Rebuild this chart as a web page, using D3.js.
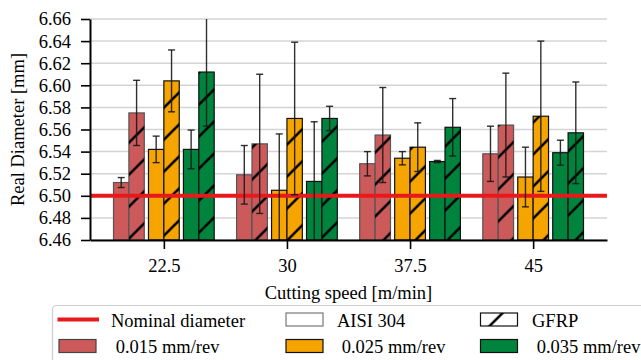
<!DOCTYPE html>
<html>
<head>
<meta charset="utf-8">
<script src="https://cdn.jsdelivr.net/npm/d3@7"></script>
<style>
  body { margin: 0; background: #fff; }
  svg, svg text { font-family: "Liberation Serif", "DejaVu Serif", serif; fill: #000; }
</style>
</head>
<body>
<svg id="chart" width="641" height="360"></svg>
<script>
// categories
const speeds = ["22.5", "30", "37.5", "45"];
const feeds = [" 0.015 mm/rev", " 0.025 mm/rev", " 0.035 mm/rev"];
const materials = ["AISI 304", "GFRP"];
const yTicks = [6.46, 6.48, 6.50, 6.52, 6.54, 6.56, 6.58, 6.60, 6.62, 6.64, 6.66];
const nominal = 6.50;

// mean diameter per speed, one array per feed rate
const aisi015 = [6.512, 6.519, 6.529, 6.538];
const aisi025 = [6.542, 6.505, 6.534, 6.517];
const aisi035 = [6.542, 6.513, 6.531, 6.539];
const gfrp015 = [6.575, 6.547, 6.555, 6.564];
const gfrp025 = [6.604, 6.570, 6.544, 6.572];
const gfrp035 = [6.612, 6.570, 6.562, 6.557];

// standard deviations
const aisi015Err = [0.0045, 0.0265, 0.011, 0.025];
const aisi025Err = [0.012, 0.051, 0.006, 0.027];
const aisi035Err = [0.0175, 0.054, 0.001, 0.0113];
const gfrp015Err = [0.0295, 0.063, 0.043, 0.047];
const gfrp025Err = [0.028, 0.069, 0.022, 0.068];
const gfrp035Err = [0.049, 0.011, 0.026, 0.046];

const feedColors = ["#cd5a5a", "#f6a400", "#00843d"];

const means = [[aisi015, gfrp015], [aisi025, gfrp025], [aisi035, gfrp035]];
const errs = [[aisi015Err, gfrp015Err], [aisi025Err, gfrp025Err], [aisi035Err, gfrp035Err]];

const rows = [];
feeds.forEach((f, fi) => {
  materials.forEach((m, mi) => {
    speeds.forEach((s, si) => {
      rows.push({ speed: si, feed: fi, mat: mi, value: means[fi][mi][si], err: errs[fi][mi][si] });
    });
  });
});

const svg = d3.select("#chart");
const serif = '"Liberation Serif", "DejaVu Serif", serif';
const plotLeft = 90, plotRight = 607, plotTop = 19, plotBottom = 240;
const fs = "18.5px";

const x = d3.scaleLinear().domain([-0.6, speeds.length - 0.4]).range([plotLeft, plotRight]);
const y = d3.scaleLinear().domain([6.46, 6.66]).range([plotBottom, plotTop]);

const barW = 0.125;
const pairGap = 0.284;

const defs = svg.append("defs");
defs.append("pattern")
  .attr("id", "hatch")
  .attr("patternUnits", "userSpaceOnUse")
  .attr("x", 15.6)
  .attr("width", 32).attr("height", 32)
  .append("path")
  .attr("d", "M0,32 L32,0 M-3,3 L3,-3 M29,35 L35,29")
  .attr("stroke", "#000")
  .attr("stroke-width", 2.6);

defs.append("clipPath").attr("id", "plotclip")
  .append("rect")
  .attr("x", plotLeft).attr("y", plotTop)
  .attr("width", plotRight - plotLeft).attr("height", plotBottom - plotTop);

// grid
svg.append("g")
  .selectAll("line")
  .data(yTicks)
  .join("line")
  .attr("x1", plotLeft).attr("x2", plotRight)
  .attr("y1", d => y(d)).attr("y2", d => y(d))
  .attr("stroke", "#d4d4d4")
  .attr("stroke-width", 1.5);

const plot = svg.append("g").attr("clip-path", "url(#plotclip)");

const barX = d => x(d.speed + (d.feed - 1) * pairGap + (d.mat - 1) * barW);
const bw = x(barW) - x(0);

// bars
plot.append("g")
  .selectAll("rect")
  .data(rows)
  .join("rect")
  .attr("x", barX)
  .attr("y", d => y(d.value))
  .attr("width", bw)
  .attr("height", d => y(6.46) - y(d.value))
  .attr("fill", d => feedColors[d.feed])
  .attr("stroke", d => d.feed === 0 ? "#555" : "#111")
  .attr("stroke-width", 1.2);

plot.append("g")
  .selectAll("rect")
  .data(rows.filter(d => d.mat === 1))
  .join("rect")
  .attr("x", barX)
  .attr("y", d => y(d.value))
  .attr("width", bw)
  .attr("height", d => y(6.46) - y(d.value))
  .attr("fill", "url(#hatch)")
  .attr("stroke", "none");

// nominal diameter
plot.append("line")
  .attr("x1", plotLeft).attr("x2", plotRight)
  .attr("y1", y(nominal)).attr("y2", y(nominal))
  .attr("stroke", "#e8191b")
  .attr("stroke-width", 4);

// error bars
const eb = plot.append("g")
  .selectAll("g")
  .data(rows)
  .join("g")
  .attr("stroke", "#1a1a1a")
  .attr("stroke-opacity", 0.9)
  .attr("stroke-width", 1.4);
const cx = d => barX(d) + bw / 2;
eb.append("line")
  .attr("x1", cx).attr("x2", cx)
  .attr("y1", d => y(d.value - d.err)).attr("y2", d => y(d.value + d.err));
eb.append("line")
  .attr("x1", d => cx(d) - 3.5).attr("x2", d => cx(d) + 3.5)
  .attr("y1", d => y(d.value - d.err)).attr("y2", d => y(d.value - d.err));
eb.append("line")
  .attr("x1", d => cx(d) - 3.5).attr("x2", d => cx(d) + 3.5)
  .attr("y1", d => y(d.value + d.err)).attr("y2", d => y(d.value + d.err));

// axes
const yAxis = svg.append("g")
  .attr("transform", `translate(${plotLeft},0)`)
  .call(d3.axisLeft(y).tickValues(yTicks).tickFormat(d3.format(".2f")).tickSize(9).tickPadding(10).tickSizeOuter(0));
const xAxis = svg.append("g")
  .attr("transform", `translate(0,${plotBottom})`)
  .call(d3.axisBottom(x).tickValues(d3.range(speeds.length)).tickFormat(i => speeds[i]).tickSize(9).tickPadding(10).tickSizeOuter(0));

[yAxis, xAxis].forEach(a => {
  a.attr("font-family", serif).attr("font-size", fs);
  a.select(".domain").attr("stroke", "#000").attr("stroke-width", 2);
  a.selectAll(".tick line").attr("stroke", "#000").attr("stroke-width", 1.6);
  a.selectAll(".tick text").style("font-family", serif).style("font-size", fs);
});

svg.append("text")
  .attr("transform", `translate(18,${(plotTop + plotBottom) / 2}) rotate(-90)`)
  .attr("text-anchor", "middle")
  .attr("dy", "0.35em")
  .style("font-family", serif)
  .style("font-size", fs)
  .text("Real Diameter [mm]");

svg.append("text")
  .attr("x", (plotLeft + plotRight) / 2)
  .attr("y", 298.5)
  .attr("text-anchor", "middle")
  .style("font-family", serif)
  .style("font-size", fs)
  .text("Cutting speed [m/min]");

// legend
const lg = svg.append("g");
lg.append("rect")
  .attr("x", 52.5).attr("y", 305.5)
  .attr("width", 620).attr("height", 80)
  .attr("rx", 4)
  .attr("fill", "#fff").attr("fill-opacity", 0.9)
  .attr("stroke", "#cccccc").attr("stroke-width", 1.2);

const colX = [58, 285, 479.5];
const textX = [111, 337, 532];
const rowY = [319.5, 346];
const hw = 37, hh = 13;

const legendItems = [
  { label: "Nominal diameter", kind: "line" },
  { label: materials[0], kind: "plain" },
  { label: materials[1], kind: "hatch" },
  ...feeds.map((f, i) => ({ label: f, kind: "feed", color: feedColors[i] }))
];

legendItems.forEach((it, i) => {
  const c = i % 3, r = Math.floor(i / 3);
  const cy = rowY[r];
  if (it.kind === "line") {
    lg.append("line")
      .attr("x1", colX[c] - 0.5).attr("x2", colX[c] + hw + 4)
      .attr("y1", cy).attr("y2", cy)
      .attr("stroke", "#e8191b").attr("stroke-width", 4);
  } else {
    const rx = colX[c] + 1;
    lg.append("rect")
      .attr("x", rx).attr("y", cy - hh / 2)
      .attr("width", hw).attr("height", hh)
      .attr("fill", it.kind === "feed" ? it.color : "#fff")
      .attr("stroke", it.kind === "plain" ? "#777" : (it.kind === "feed" && i === 3 ? "#444" : "#111"))
      .attr("stroke-width", 1.2);
    if (it.kind === "hatch") {
      lg.append("rect")
        .attr("x", rx).attr("y", cy - hh / 2)
        .attr("width", hw).attr("height", hh)
        .attr("fill", "url(#hatch)");
    }
  }
  lg.append("text")
    .attr("x", textX[c])
    .attr("y", cy + 7)
    .style("font-family", serif)
    .style("font-size", fs)
    .style("white-space", "pre")
    .text(it.label);
});
</script>
</body>
</html>
